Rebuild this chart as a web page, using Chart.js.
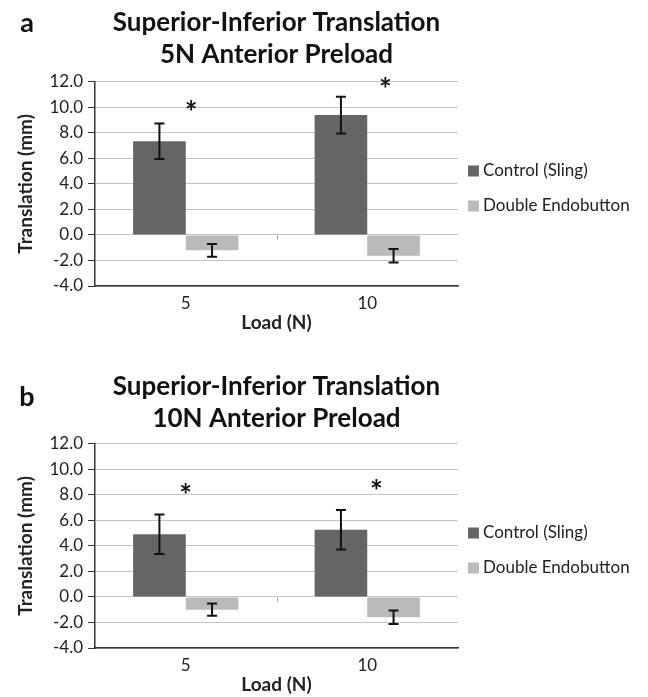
<!DOCTYPE html>
<html>
<head>
<meta charset="utf-8">
<script src="https://cdn.jsdelivr.net/npm/chart.js@4/dist/chart.umd.min.js"></script>
<style>
  html, body { margin: 0; padding: 0; background: #fff; overflow: hidden; }
  .panel { position: absolute; left: 0; width: 648px; height: 340px; }
</style>
</head>
<body>
<div class="panel" style="top:0"><canvas id="chartA" width="648" height="340"></canvas></div>
<div class="panel" style="top:362px"><canvas id="chartB" width="648" height="340"></canvas></div>
<script>
// === Data ===
const loads = ['5', '10'];
const seriesNames = ['Control (Sling)', 'Double Endobutton'];
const seriesColors = ['#656565', '#bababa'];
const panelLetters = ['a', 'b'];
const titleA = ['Superior-Inferior Translation', '5N Anterior Preload'];
const titleB = ['Superior-Inferior Translation', '10N Anterior Preload'];

// panel a: 5N anterior preload
const controlA = [7.35, 9.4];
const controlErrA = [1.4, 1.45];
const doubleA = [-1.2, -1.62];
const doubleErrA = [0.5, 0.53];
const starA = [10.0, 11.8];
const starShiftA = [0.03, 0.1];

// panel b: 10N anterior preload
const controlB = [4.92, 5.28];
const controlErrB = [1.55, 1.55];
const doubleB = [-1.0, -1.58];
const doubleErrB = [0.48, 0.53];
const starB = [8.4, 8.65];
const starShiftB = [0.0, 0.05];

const yMin = -4, yMax = 12, yStep = 2;
const FONT = 'Lato';

// error bars drawn from dataset.errors
const errorBars = {
  id: 'errorBars',
  afterDatasetsDraw(chart) {
    const ctx = chart.ctx, y = chart.scales.y;
    chart.data.datasets.forEach((ds, di) => {
      chart.getDatasetMeta(di).data.forEach((bar, i) => {
        const v = ds.data[i], e = ds.errors[i];
        const t = y.getPixelForValue(v + e), b = y.getPixelForValue(v - e);
        ctx.save();
        ctx.strokeStyle = '#111';
        ctx.lineWidth = 2;
        ctx.beginPath();
        ctx.moveTo(bar.x, t); ctx.lineTo(bar.x, b);
        ctx.moveTo(bar.x - 5, t); ctx.lineTo(bar.x + 5, t);
        ctx.moveTo(bar.x - 5, b); ctx.lineTo(bar.x + 5, b);
        ctx.stroke();
        ctx.restore();
      });
    });
  }
};

// asterisks, panel letter, legend, zero-line tick
const extras = {
  id: 'extras',
  afterDraw(chart, args, opts) {
    const ctx = chart.ctx, x = chart.scales.x, y = chart.scales.y;
    const area = chart.chartArea;
    const catW = (area.right - area.left) / loads.length;
    ctx.save();
    // tick on zero line between categories
    ctx.strokeStyle = '#999';
    ctx.lineWidth = 1;
    const y0 = Math.round(y.getPixelForValue(0)) + 0.5;
    for (let i = 1; i < loads.length; i++) {
      const bx = Math.round(area.left + catW * i) + 0.5;
      ctx.beginPath(); ctx.moveTo(bx, y0); ctx.lineTo(bx, y0 + 4); ctx.stroke();
    }
    // asterisks
    ctx.fillStyle = '#111';
    ctx.font = 'bold 30px ' + FONT;
    ctx.textAlign = 'center';
    ctx.textBaseline = 'middle';
    opts.stars.forEach((v, i) => {
      ctx.fillText('*', x.getPixelForValue(i) + opts.shifts[i] * catW, y.getPixelForValue(v) + 6);
    });
    // panel letter
    ctx.font = 'bold 27px ' + FONT;
    ctx.fillText(opts.letter, 27, opts.letterY);
    // legend
    ctx.font = '17px ' + FONT;
    ctx.textAlign = 'left';
    chart.data.datasets.forEach((ds, i) => {
      const cy = 171 + i * 35;
      ctx.fillStyle = ds.backgroundColor;
      ctx.fillRect(468, cy - 5.5, 11, 11);
      ctx.fillStyle = '#222';
      ctx.fillText(ds.label, 483, cy);
    });
    ctx.restore();
  }
};

function makeChart(id, title, ctrl, ctrlErr, dbl, dblErr, stars, shifts, letter, letterY, titlePad) {
  return new Chart(document.getElementById(id), {
    type: 'bar',
    data: {
      labels: loads,
      datasets: [
        { label: seriesNames[0], data: ctrl, errors: ctrlErr, backgroundColor: seriesColors[0] },
        { label: seriesNames[1], data: dbl, errors: dblErr, backgroundColor: seriesColors[1] }
      ]
    },
    options: {
      responsive: false,
      animation: false,
      layout: { padding: { left: 0, right: 190, top: 0, bottom: 0 } },
      datasets: { bar: { categoryPercentage: 0.58, barPercentage: 1.0 } },
      scales: {
        x: {
          grid: { display: false, drawTicks: false },
          border: { display: true, color: '#333', width: 1.5 },
          ticks: { color: '#222', font: { family: FONT, size: 17 }, padding: 7 },
          title: { display: true, text: 'Load (N)', color: '#222',
                   font: { family: FONT, size: 19, weight: 'bold' }, padding: { top: 0, bottom: 6 } },
          afterFit: s => { s.height = 54; }
        },
        y: {
          min: yMin, max: yMax,
          ticks: { stepSize: yStep, color: '#222', font: { family: FONT, size: 17 }, padding: 5,
                   callback: v => v.toFixed(1) },
          grid: { color: '#c4c4c4', tickColor: '#333', tickLength: 7, lineWidth: 1 },
          border: { color: '#333', width: 1.5 },
          title: { display: true, text: 'Translation (mm)', color: '#222',
                   font: { family: FONT, size: 19, weight: 'bold' }, padding: { top: 14, bottom: 0 } },
          afterFit: s => { s.width = 95; }
        }
      },
      plugins: {
        legend: { display: false },
        tooltip: { enabled: false },
        title: {
          display: true, fullSize: false, text: title, color: '#111',
          font: { family: FONT, size: 26, weight: 'bold', lineHeight: 1.23 },
          padding: titlePad
        },
        extras: { stars: stars, shifts: shifts, letter: letter, letterY: letterY }
      }
    },
    plugins: [errorBars, extras]
  });
}

makeChart('chartA', titleA, controlA, controlErrA, doubleA, doubleErrA, starA, starShiftA,
          panelLetters[0], 23, { top: 7, bottom: 11 });
makeChart('chartB', titleB, controlB, controlErrB, doubleB, doubleErrB, starB, starShiftB,
          panelLetters[1], 35, { top: 9, bottom: 9 });
</script>
</body>
</html>
